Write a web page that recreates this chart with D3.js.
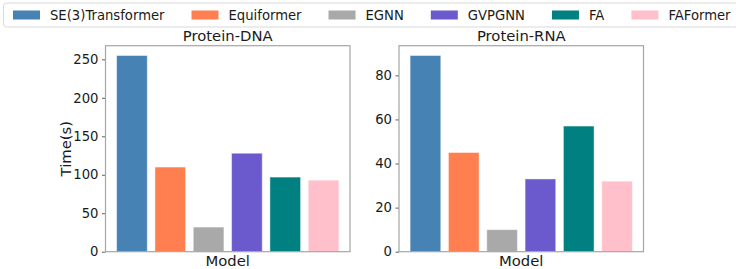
<!DOCTYPE html>
<html>
<head>
<meta charset="utf-8">
<script src="https://cdn.jsdelivr.net/npm/d3@7"></script>
<style>
  body { margin: 0; background: #fff; }
  text { font-family: "DejaVu Sans", sans-serif; fill: #1a1a1a; }
</style>
</head>
<body>
<div id="chart"></div>
<script>
var models = ['SE(3)Transformer', 'Equiformer', 'EGNN', 'GVPGNN', 'FA', 'FAFormer'];
var colors = ['#4682b4', '#ff7f50', '#a9a9a9', '#6a5acd', '#008080', '#ffc0cb'];
var dnaTimes = [255, 110, 32, 128, 97, 93];
var rnaTimes = [89, 45, 10, 33, 57, 32];
var dnaTicks = [0, 50, 100, 150, 200, 250];
var rnaTicks = [0, 20, 40, 60, 80];

var W = 736, H = 269;
var svg = d3.select('#chart').append('svg')
            .attr('width', W).attr('height', H);

// legend across the top (runs past the right edge, like the original)
var legend = svg.append('g');
legend.append('rect')
      .attr('x', 3.5).attr('y', 3).attr('width', 740).attr('height', 24)
      .attr('rx', 3)
      .attr('fill', '#fff').attr('stroke', '#d9d9d9');
var lx = 13;
models.forEach(function(m, i) {
  legend.append('rect')
        .attr('x', lx).attr('y', 10.5).attr('width', 27).attr('height', 9)
        .attr('fill', colors[i]);
  var t = legend.append('text')
        .attr('x', lx + 37).attr('y', 19.8)
        .style('font-size', '13.2px')
        .text(m);
  lx = lx + 37 + t.node().getComputedTextLength() + 27;
});

var panel = function(left, right, title, values, ticks, ylab) {
  var top = 45.7, bottom = 251.7;
  // matplotlib-like margins: bars span -0.4..5.4, plus 5% each side
  var x = d3.scaleLinear().domain([-0.69, 5.69]).range([left, right]);
  var y = d3.scaleLinear().domain([0, d3.max(values) * 1.05]).range([bottom, top]);
  var g = svg.append('g');

  g.selectAll('rect.bar').data(values).enter().append('rect')
   .attr('class', 'bar')
   .attr('x', function(d, i) { return x(i - 0.4); })
   .attr('width', function(d, i) { return x(i + 0.4) - x(i - 0.4); })
   .attr('y', function(d) { return y(d); })
   .attr('height', function(d) { return bottom - y(d); })
   .attr('fill', function(d, i) { return colors[i]; })
   .attr('stroke', 'rgba(255,255,255,0.45)')
   .attr('stroke-width', 1);

  var ax = g.append('g')
            .attr('transform', 'translate(' + left + ',0)')
            .call(d3.axisLeft(y).tickValues(ticks).tickSize(3.5).tickPadding(3.5));
  ax.select('.domain').remove();
  ax.selectAll('line').attr('stroke', '#333').attr('stroke-width', 0.8);
  ax.selectAll('text').style('font-size', '13.2px').attr('fill', '#1a1a1a')
    .style('font-family', '"DejaVu Sans", sans-serif');

  g.append('rect')
   .attr('x', left).attr('y', top).attr('width', right - left).attr('height', bottom - top)
   .attr('fill', 'none').attr('stroke', '#a6a6a6').attr('stroke-width', 1.2);

  g.append('text')
   .attr('x', (left + right) / 2).attr('y', 40.5)
   .attr('text-anchor', 'middle')
   .style('font-size', '14.8px')
   .text(title);
  g.append('text')
   .attr('x', (left + right) / 2).attr('y', 265.5)
   .attr('text-anchor', 'middle')
   .style('font-size', '14.8px')
   .text('Model');
  if (ylab) {
    g.append('text')
     .attr('transform', 'translate(71,' + ((top + bottom) / 2) + ') rotate(-90)')
     .attr('text-anchor', 'middle')
     .style('font-size', '14.8px')
     .text(ylab);
  }
};

panel(105.5, 350, 'Protein-DNA', dnaTimes, dnaTicks, 'Time(s)');
panel(399, 643.5, 'Protein-RNA', rnaTimes, rnaTicks, null);
</script>
</body>
</html>
